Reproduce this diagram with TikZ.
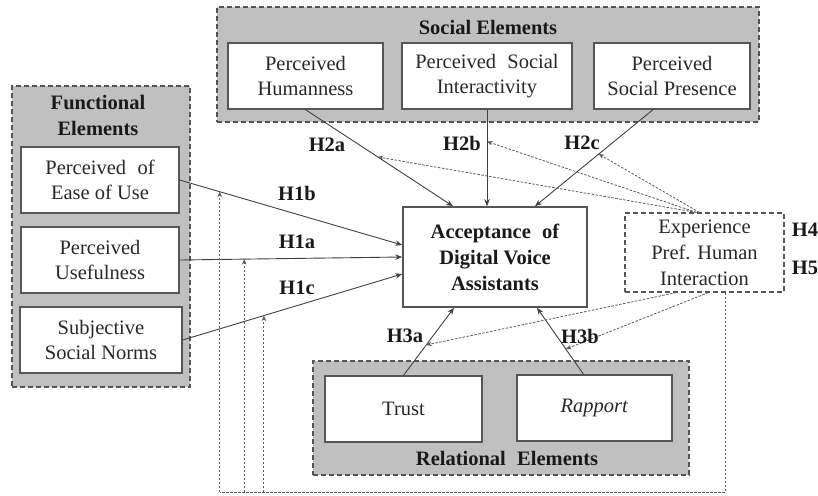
\documentclass[tikz,border=0pt]{standalone}
\usepackage{fontspec}
\setmainfont{Liberation Serif}
\usetikzlibrary{arrows.meta}
\definecolor{grpfill}{RGB}{192,192,192}
\definecolor{edge}{RGB}{85,85,85}
\definecolor{ink}{RGB}{40,40,40}
\newcommand{\wsp}{\hspace{0.55em}}
\begin{document}
\begin{tikzpicture}[x=1pt,y=-1pt,
  font=\fontsize{20.5}{25.5}\selectfont,
  every node/.style={text=ink},
  grp/.style={draw=edge, fill=grpfill, line width=1.1pt, dash pattern=on 5pt off 3pt, inner sep=0pt, outer sep=0pt},
  box/.style={draw=edge, fill=white, line width=1.3pt, align=center, inner sep=0pt, minimum height=66pt},
  grptitle/.style={font=\fontsize{20.5}{25.5}\selectfont\bfseries, align=center, text=black!90},
  hyp/.style={font=\fontsize{20.5}{25.5}\selectfont\bfseries, text=black!90},
  link/.style={draw=black!75, line width=0.9pt, -{Stealth[length=7pt,width=5.5pt]}},
  moder/.style={draw=black!65, line width=0.8pt, dash pattern=on 2.5pt off 1.5pt, -{Stealth[length=5.5pt,width=4.5pt]}},
  modline/.style={draw=black!65, line width=0.8pt, dash pattern=on 2.5pt off 1.5pt}
]
\useasboundingbox (0,0) rectangle (818,495);

% group panels
\node[grp, minimum width=542pt, minimum height=115pt] (social) at (488,64.5) {};
\node[grp, minimum width=178pt, minimum height=301pt] (functional) at (101,236.5) {};
\node[grp, minimum width=376pt, minimum height=114pt] (relational) at (501,418) {};

\node[grptitle] (socialT) at (488,27) {Social Elements};
\node[grptitle] (funcT) at (98,115.5) {Functional\\Elements};
\node[grptitle] (relT) at (507,458) {Relational\wsp Elements};

% constructs
\node[box, minimum width=155pt] (hum) at (305.5,76) {Perceived\\Humanness};
\node[box, minimum width=170pt] (int) at (487,76) {Perceived\wsp Social\\Interactivity};
\node[box, minimum width=156pt] (pres) at (672,76) {Perceived\\Social Presence};

\node[box, minimum width=158pt] (ease) at (100,180) {Perceived\wsp of\\Ease of Use};
\node[box, minimum width=158pt] (use) at (100,260) {Perceived\\Usefulness};
\node[box, minimum width=162pt] (subj) at (101,340) {Subjective\\Social Norms};

\node[box, minimum width=184pt, minimum height=100pt, line width=1.6pt,
      font=\fontsize{20.5}{26}\selectfont\bfseries, text=black!90] (acc) at (495,257)
      {Acceptance\wsp of\\Digital Voice\\Assistants};

\node[box, fill=none, minimum width=159pt, minimum height=79pt, line width=1.1pt,
      dash pattern=on 5pt off 3pt, font=\fontsize{20.5}{26}\selectfont] (exp) at (704.5,252.5)
      {Experience\\Pref. Human\\Interaction};

\node[box, minimum width=157pt] (trust) at (403.5,409) {Trust};
\node[box, minimum width=155pt] (rap) at (594.5,408) {\textit{Rapport}};

% hypotheses paths
\draw[link] (ease.east) -- coordinate[pos=0.18] (m1b) ([yshift=12pt]acc.west);
\draw[link] (use.east) -- coordinate[pos=0.29] (m1a) (acc.west);
\draw[link] (subj.east) -- coordinate[pos=0.37] (m1c) ([yshift=-17pt]acc.west);
\draw[link] (hum.south) -- coordinate[pos=0.49] (m2a) ([xshift=-42pt]acc.north);
\draw[link] (int.south) -- coordinate[pos=0.33] (m2b) (int.south |- acc.north);
\draw[link] ([xshift=-19pt]pres.south) -- coordinate[pos=0.46] (m2c) ([xshift=40pt]acc.north);
\draw[link] (trust.north) -- coordinate[pos=0.45] (m3a) ([xshift=-41pt]acc.south);
\draw[link] ([xshift=-11pt]rap.north) -- coordinate[pos=0.38] (m3b) ([xshift=42pt]acc.south);

% moderating paths
\draw[moder] ([xshift=-8pt]exp.north) -- (m2a);
\draw[moder] ([xshift=-8pt]exp.north) -- (m2b);
\draw[moder] ([xshift=-5pt]exp.north) -- (m2c);
\draw[moder] ([xshift=-28pt]exp.south) -- (m3a);
\draw[moder] ([xshift=4pt]exp.south) -- (m3b);

\coordinate (bus) at (0,492);
\coordinate (expout) at ([xshift=21pt]exp.south);
\draw[modline] (expout) -- (expout |- bus) -- (m1b |- bus);
\draw[moder] (m1b |- bus) -- (m1b);
\draw[moder] (m1a |- bus) -- (m1a);
\draw[moder] (m1c |- bus) -- (m1c);

% hypothesis labels
\node[hyp] (h1b) at (297,193) {H1b};
\node[hyp] (h1a) at (297,242) {H1a};
\node[hyp] (h1c) at (297,288) {H1c};
\node[hyp] (h2a) at (327,145) {H2a};
\node[hyp] (h2b) at (462,143) {H2b};
\node[hyp] (h2c) at (582,143) {H2c};
\node[hyp] (h3a) at (405,336) {H3a};
\node[hyp] (h3b) at (580,336) {H3b};
\node[hyp] (h4) at (805,230) {H4};
\node[hyp] (h5) at (805,268) {H5};
\end{tikzpicture}
\end{document}
